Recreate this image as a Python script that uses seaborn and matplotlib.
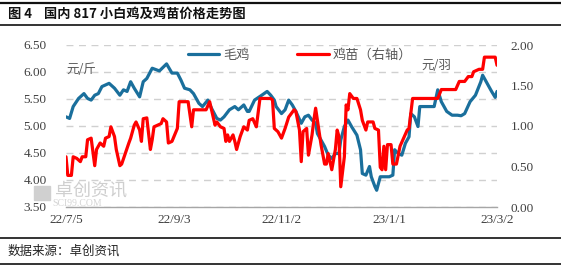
import matplotlib
matplotlib.use("Agg")
import matplotlib.pyplot as plt
import matplotlib.dates as mdates
from matplotlib.lines import Line2D
import seaborn as sns
import pandas as pd
import numpy as np

sns.set_theme(style="white")
plt.rcParams['font.family'] = ['Noto Sans CJK SC', 'DejaVu Sans']

start = pd.Timestamp("2022-07-05")

# 毛鸡 (元/斤) - day offset from 2022-07-05, value
broiler_days = [0, 2, 4, 7, 10, 12, 14, 16, 18, 20, 24, 27, 30, 32, 34, 36, 38, 41, 43, 45,
                48, 52, 56, 59, 62, 64, 66, 69, 71, 74, 76, 79, 81, 84, 86, 88, 91, 94, 96, 99,
                101, 102, 105, 109, 112, 114, 116, 117, 120, 122, 124, 126, 128, 131, 133, 135,
                137, 139, 140, 142, 144, 146, 148, 150, 152, 153, 155, 157, 159, 162, 164, 165,
                167, 169, 170, 172, 173, 175, 177, 180, 182, 183, 185, 187, 189, 191, 192, 194,
                196, 197, 201, 205, 207, 209, 212, 215, 218, 220, 222, 225, 228, 231, 232, 234,
                237, 239, 240]
broiler_vals = [5.17, 5.14, 5.36, 5.51, 5.60, 5.51, 5.48, 5.57, 5.60, 5.73, 5.79, 5.70, 5.57,
                5.67, 5.64, 5.82, 5.70, 5.54, 5.82, 5.88, 6.07, 6.02, 6.15, 5.98, 5.98, 5.85,
                5.70, 5.67, 5.60, 5.42, 5.36, 5.48, 5.33, 5.14, 5.11, 5.17, 5.30, 5.36, 5.30,
                5.39, 5.27, 5.27, 5.48, 5.57, 5.64, 5.57, 5.48, 5.36, 5.23, 5.30, 5.48, 5.39,
                5.27, 5.05, 5.17, 5.20, 5.11, 5.05, 4.86, 4.74, 4.62, 4.46, 4.40, 4.49, 4.49,
                4.74, 4.99, 5.11, 4.99, 4.83, 4.56, 4.12, 4.09, 4.25, 4.06, 3.88, 3.81, 4.06,
                4.06, 4.06, 4.09, 4.56, 4.49, 4.46, 4.68, 4.80, 5.23, 5.17, 4.99, 5.36, 5.36,
                5.36, 5.67, 5.45, 5.27, 5.20, 5.20, 5.19, 5.23, 5.45, 5.57, 5.82, 5.94, 5.82,
                5.64, 5.53, 5.64]

# 鸡苗 (元/羽, 右轴)
chick_days = [0, 1, 3, 4, 6, 8, 9, 11, 12, 14, 16, 17, 19, 21, 22, 24, 25, 27, 28, 30, 31, 33,
              35, 36, 38, 39, 41, 42, 43, 45, 47, 48, 49, 51, 53, 54, 56, 57, 59, 62, 63, 68,
              70, 71, 78, 80, 83, 84, 86, 88, 89, 90, 91, 93, 94, 95, 97, 99, 101, 102, 104,
              106, 108, 114, 115, 116, 118, 120, 122, 124, 127, 128, 130, 131, 132, 134, 135,
              137, 138, 139, 140, 142, 144, 145, 146, 148, 150, 151, 152, 153, 155, 156, 157,
              158, 160, 162, 164, 165, 167, 168, 171, 172, 174, 175, 176, 177, 178, 179, 181,
              182, 184, 186, 188, 190, 191, 193, 207, 209, 217, 219, 222, 224, 226, 227, 230,
              232, 233, 239, 240]
chick_vals = [0.62, 0.39, 0.39, 0.62, 0.60, 0.56, 0.62, 0.62, 0.83, 0.85, 0.51, 0.71, 0.79,
              0.75, 0.85, 0.87, 0.99, 0.87, 0.71, 0.51, 0.53, 0.66, 0.79, 0.85, 1.01, 1.05,
              0.95, 0.81, 1.09, 1.10, 0.71, 0.83, 0.99, 1.01, 1.03, 1.09, 1.05, 0.79, 0.81,
              0.97, 1.30, 1.30, 0.99, 1.20, 1.20, 1.30, 1.01, 1.05, 0.99, 0.97, 0.81, 0.89,
              0.81, 0.89, 0.81, 0.71, 0.87, 0.99, 0.95, 1.07, 1.09, 0.99, 1.34, 1.34, 1.32,
              0.97, 0.93, 0.85, 0.97, 1.11, 1.20, 1.18, 0.95, 0.56, 0.93, 0.97, 0.64, 0.89,
              1.07, 1.22, 1.07, 0.77, 0.53, 0.53, 0.66, 0.46, 0.71, 0.95, 0.87, 0.25, 0.62,
              1.26, 1.20, 1.40, 1.34, 1.34, 1.20, 1.07, 0.95, 1.05, 1.05, 0.97, 0.95, 0.49,
              0.46, 0.75, 0.46, 0.77, 0.77, 0.53, 0.53, 0.75, 0.85, 0.95, 0.97, 1.34, 1.34,
              1.45, 1.45, 1.55, 1.55, 1.61, 1.61, 1.67, 1.70, 1.70, 1.85, 1.85, 1.75]

tick_dates = ["2022-07-05", "2022-09-03", "2022-11-02", "2023-01-01", "2023-03-02"]
tick_labels = ["22/7/5", "22/9/3", "22/11/2", "23/1/1", "23/3/2"]
left_ticks = [3.50, 4.00, 4.50, 5.00, 5.50, 6.00, 6.50]
right_ticks = [0.00, 0.50, 1.00, 1.50, 2.00]

df_b = pd.DataFrame({"date": start + pd.to_timedelta(broiler_days, unit="D"), "v": broiler_vals})
df_c = pd.DataFrame({"date": start + pd.to_timedelta(chick_days, unit="D"), "v": chick_vals})

BLUE = "#1a6f9c"
RED = "#ff0000"
W, H = 561, 271
fig = plt.figure(figsize=(W / 100, H / 100), dpi=100)
ax = fig.add_axes([66 / W, 1 - 207 / H, (497 - 66) / W, (207 - 45) / H])
ax2 = ax.twinx()

sns.lineplot(data=df_b, x="date", y="v", ax=ax, color=BLUE, linewidth=2.3, label="毛鸡", legend=False)
sns.lineplot(data=df_c, x="date", y="v", ax=ax2, color=RED, linewidth=2.3, label="鸡苗（右轴）", legend=False)

ax.set_xlim(start, pd.Timestamp("2023-03-02"))
ax.set_ylim(3.5, 6.5)
ax2.set_ylim(0, 2.0)
ax.set_yticks(left_ticks)
ax2.set_yticks(right_ticks)
num_font = dict(family=['Liberation Serif', 'DejaVu Serif'], size=9.5, color="#404040")
ax.set_yticklabels([f"{t:.2f}" for t in left_ticks], **num_font)
ax2.set_yticklabels([f"{t:.2f}" for t in right_ticks], **num_font)
ax.set_xticks(pd.to_datetime(tick_dates))
ax.set_xticklabels(tick_labels, **num_font)
ax.set_xlabel("")
ax.set_ylabel("")
ax2.set_ylabel("")

for a in (ax, ax2):
    for s in ("top", "left", "right"):
        a.spines[s].set_visible(False)
    a.spines["bottom"].set_visible(False)
ax.spines["bottom"].set_visible(True)
ax.spines["bottom"].set_color("#a6a6a6")
ax.spines["bottom"].set_linewidth(1.0)

ax.tick_params(axis="x", direction="inout", length=4, width=0.8, color="#a6a6a6", pad=3)
ax.tick_params(axis="y", length=0, pad=14)
ax2.tick_params(axis="y", length=0, pad=10)
ax.yaxis.grid(True, linestyle=(0, (5, 4)), color="#d0d0d0", linewidth=1.0)
ax.set_axisbelow(True)
ax.xaxis.grid(False)
ax2.grid(False)

ax.text(0.0, 0.85, "元/斤", transform=ax.transAxes, fontsize=9, color="#595959", ha="left", va="center")
ax2.text(0.825, 0.875, "元/羽", transform=ax.transAxes, fontsize=9, color="#595959", ha="left", va="center")

handles = [Line2D([], [], color=BLUE, lw=2.3), Line2D([], [], color=RED, lw=2.3)]
leg = fig.legend(handles, ["毛鸡", "鸡苗（右轴）"], ncol=2, frameon=False, loc="center left",
                 bbox_to_anchor=(181 / W, 1 - 55 / H), borderpad=0, handlelength=2.4,
                 handletextpad=0.3, columnspacing=3.6, prop={"size": 9.5})
for t in leg.get_texts():
    t.set_color("#595959")

# watermark
fig.patches.append(plt.Rectangle((34 / W, 1 - 200 / H), 16 / W, 14 / H, transform=fig.transFigure,
                                 color="#d0d0d0", zorder=0))
fig.text(55 / W, 1 - 191 / H, "卓创资讯", fontsize=13, color="#cfcfcf", ha="left", va="center", zorder=0)
fig.text(52 / W, 1 - 204 / H, "SCI99.COM", fontsize=7, color="#d5d5d5", ha="left", va="center",
         family=['Liberation Serif', 'DejaVu Serif'], zorder=0)

# title & frame rules
fig.text(8 / W, 1 - 14 / H, "图 4    国内 817 小白鸡及鸡苗价格走势图", fontsize=9.5, fontweight="bold",
         color="#111111", ha="left", va="center")
for y, lw in [(3, 1.6), (25, 1.2), (238, 1.2), (264, 1.2)]:
    fig.add_artist(Line2D([0, 1], [1 - y / H, 1 - y / H], transform=fig.transFigure, color="#111111", lw=lw))
fig.text(8 / W, 1 - 251 / H, "数据来源：卓创资讯", fontsize=9, color="#222222", ha="left", va="center")

fig.savefig("out.png", dpi=100)
